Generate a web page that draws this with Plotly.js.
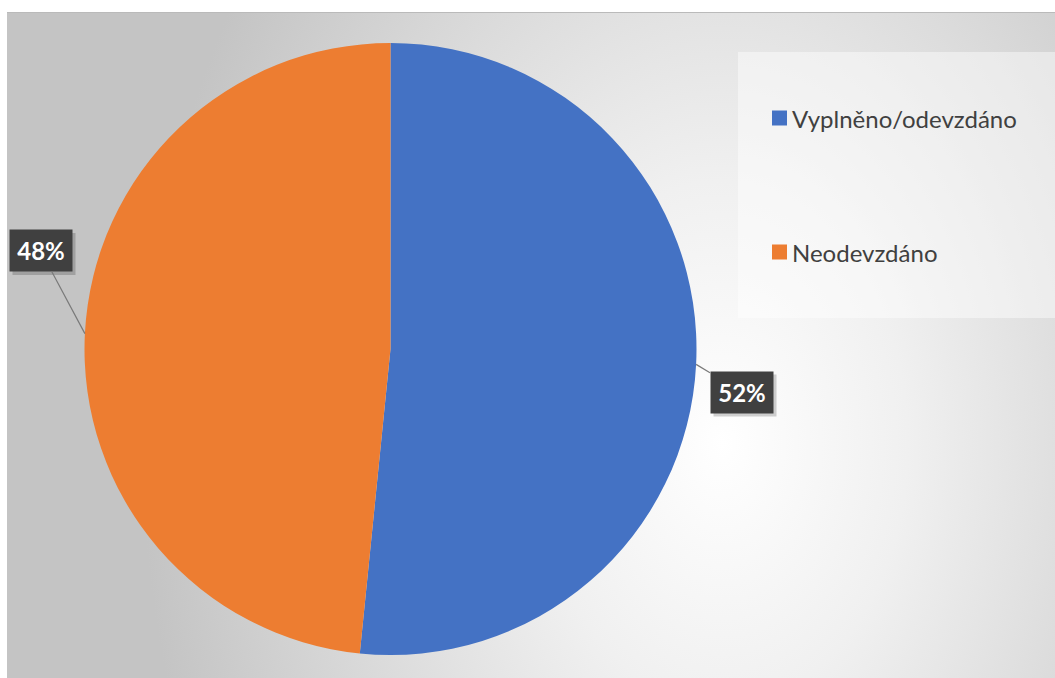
<!DOCTYPE html>
<html>
<head>
<meta charset="utf-8">
<script src="https://cdn.plot.ly/plotly-3.0.1.min.js"></script>
<style>
  html, body { margin: 0; padding: 0; background: #ffffff; }
  #bg {
    position: absolute; left: 7px; top: 12px; width: 1048px; height: 666px;
    border-top: 1px solid #bababa;
    background: radial-gradient(ellipse 580px 820px at 715px 430px, #ffffff 0%, #f0f0f0 32%, #c4c4c4 100%);
  }
  #chart { position: absolute; left: 0; top: 0; width: 1055px; height: 678px; }
</style>
</head>
<body>
<div id="bg"></div>
<div id="chart"></div>
<script>
// ---- data ----
const categories = ["Vyplněno/odevzdáno", "Neodevzdáno"];
const values = [51.6, 48.4];
const colors = ["#4472C4", "#ED7D31"];

// ---- geometry (pixels) ----
const W = 1055, H = 678;
const CX = 390.5, CY = 349, R = 306;
// label box centres (pixels)
const labelBoxes = [[741.5, 392], [40.5, 250.5]];
const BOXW = 62, BOXH = 41;

const total = values.reduce((a, b) => a + b, 0);
let cum = 0;
const annotations = [];
const shapes = [];

// legend panel
shapes.push({type: 'rect', xref: 'paper', yref: 'paper',
  x0: 738 / W, x1: 1, y0: 1 - 318 / H, y1: 1 - 52 / H,
  fillcolor: 'rgba(255,255,255,0.45)', line: {width: 0}, layer: 'below'});

values.forEach((v, i) => {
  const frac = v / total;
  const mid = (cum + frac / 2) * 2 * Math.PI;
  cum += frac;
  const px = CX + R * Math.sin(mid);
  const py = CY - R * Math.cos(mid);
  const [bx, by] = labelBoxes[i];
  // shadow
  shapes.push({type: 'rect', xref: 'paper', yref: 'paper',
    x0: (bx - BOXW / 2 + 3) / W, x1: (bx + BOXW / 2 + 4) / W,
    y0: 1 - (by + BOXH / 2 + 4) / H, y1: 1 - (by - BOXH / 2 + 3) / H,
    fillcolor: 'rgba(0,0,0,0.18)', line: {width: 0}, layer: 'above'});
  annotations.push({
    xref: 'paper', yref: 'paper', x: px / W, y: 1 - py / H,
    ax: bx - px, ay: by - py,
    text: '<b>' + Math.round(frac * 100) + '%</b>',
    showarrow: true, arrowhead: 0, arrowwidth: 1.2, arrowcolor: '#7a7a7a',
    bgcolor: '#404040', width: BOXW, height: BOXH, borderpad: 0,
    font: {family: 'Lato, "Open Sans", sans-serif', size: 24, color: '#ffffff'}
  });
  // legend entries
  const ly = [118, 252][i];
  shapes.push({type: 'rect', xref: 'paper', yref: 'paper',
    x0: 772 / W, x1: 787 / W, y0: 1 - (ly + 7.5) / H, y1: 1 - (ly - 7.5) / H,
    fillcolor: colors[i], line: {width: 0}});
  annotations.push({
    xref: 'paper', yref: 'paper', x: 790 / W, y: 1 - ly / H,
    xanchor: 'left', yanchor: 'middle', showarrow: false,
    text: categories[i],
    font: {family: 'Lato, "Open Sans", sans-serif', size: 24, color: '#404040'}
  });
});

const trace = {
  type: 'pie',
  labels: categories,
  values: values,
  sort: false,
  direction: 'clockwise',
  rotation: 0,
  textinfo: 'none',
  hoverinfo: 'label+percent',
  marker: {colors: colors, line: {width: 0}},
  domain: {x: [(CX - R) / W, (CX + R) / W], y: [1 - (CY + R) / H, 1 - (CY - R) / H]},
  showlegend: false
};

Plotly.newPlot('chart', [trace], {
  width: W, height: H,
  margin: {l: 0, r: 0, t: 0, b: 0},
  paper_bgcolor: 'rgba(0,0,0,0)',
  plot_bgcolor: 'rgba(0,0,0,0)',
  showlegend: false,
  shapes: shapes,
  annotations: annotations
}, {displayModeBar: false, staticPlot: true});
</script>
</body>
</html>
